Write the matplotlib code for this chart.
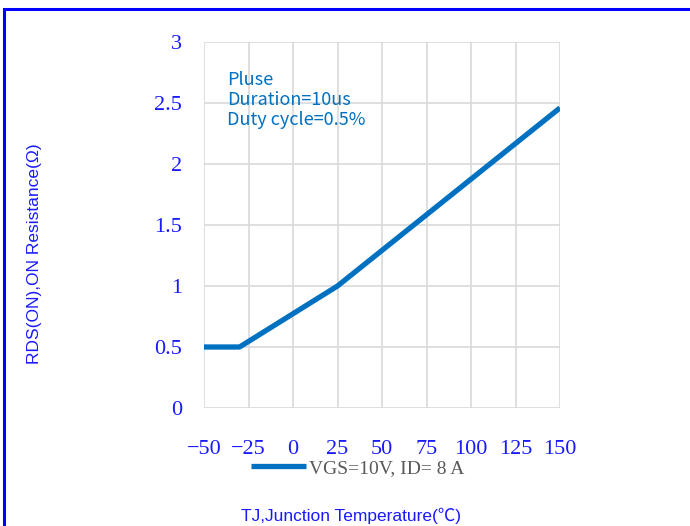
import matplotlib
matplotlib.use('Agg')
import matplotlib.pyplot as plt
from matplotlib.patches import Rectangle

# data
temp = [-50, -30, 25, 150]
rds = [0.5, 0.5, 1.0, 2.46]
xticks = [-50, -25, 0, 25, 50, 75, 100, 125, 150]
yticks = [0, 0.5, 1, 1.5, 2, 2.5, 3]
yticklabels = ['0', '0.5', '1', '1.5', '2', '2.5', '3']

line_c = '#0070C0'
tick_c = '#1a1aff'

fig = plt.figure(figsize=(6.9, 5.26), dpi=100)
ax = fig.add_axes([204/690, 1-408/526, 356/690, 366/526])

ax.plot(temp, rds, color=line_c, lw=3.8, label='VGS=10V, ID= 8 A', solid_capstyle='butt')
ax.set_xlim(-50, 150)
ax.set_ylim(0, 3)
ax.set_xticks(xticks)
ax.set_yticks(yticks)
ax.set_yticklabels(yticklabels)
ax.grid(True, color='#d9d9d9', lw=1.2)
ax.set_axisbelow(True)
for s in ax.spines.values():
    s.set_visible(False)
ax.tick_params(length=0, colors=tick_c, labelsize=16)
ax.tick_params(axis='y', pad=16)
ax.tick_params(axis='x', pad=23)
for lb in ax.get_xticklabels() + ax.get_yticklabels():
    lb.set_family(['Liberation Serif', 'DejaVu Serif'])

ax.text(-37, 2.76, 'Pluse\nDuration=10us\nDuty cycle=0.5%', color=line_c,
        fontsize=13, family='Noto Sans CJK SC', va='top', ha='left', linespacing=1.12)

leg = ax.legend(loc='center', bbox_to_anchor=(358/690, 1-468/526),
                bbox_transform=fig.transFigure, frameon=False, handlelength=2.8,
                handletextpad=0.2, prop={'family': ['Liberation Serif', 'DejaVu Serif'], 'size': 14})
for t in leg.get_texts():
    t.set_color('#595959')

fig.text(35/690, 1-254/526, 'RDS(ON),ON Resistance(Ω)', rotation=90, color=tick_c,
         fontsize=12.5, family='Liberation Sans', ha='center', va='center')
fig.text(351/690, 1-516/526, 'TJ,Junction Temperature(℃)', color=tick_c,
         fontsize=12.5, family=['Liberation Sans', 'Noto Sans CJK SC'], ha='center', va='center')

# blue frame around the chart
fig.patches.append(Rectangle((4/690, -0.1), 1.1, 1.1 - 9/526, transform=fig.transFigure,
                             fill=False, edgecolor='#0000ff', lw=2.2))

fig.savefig('out.png', dpi=100)
